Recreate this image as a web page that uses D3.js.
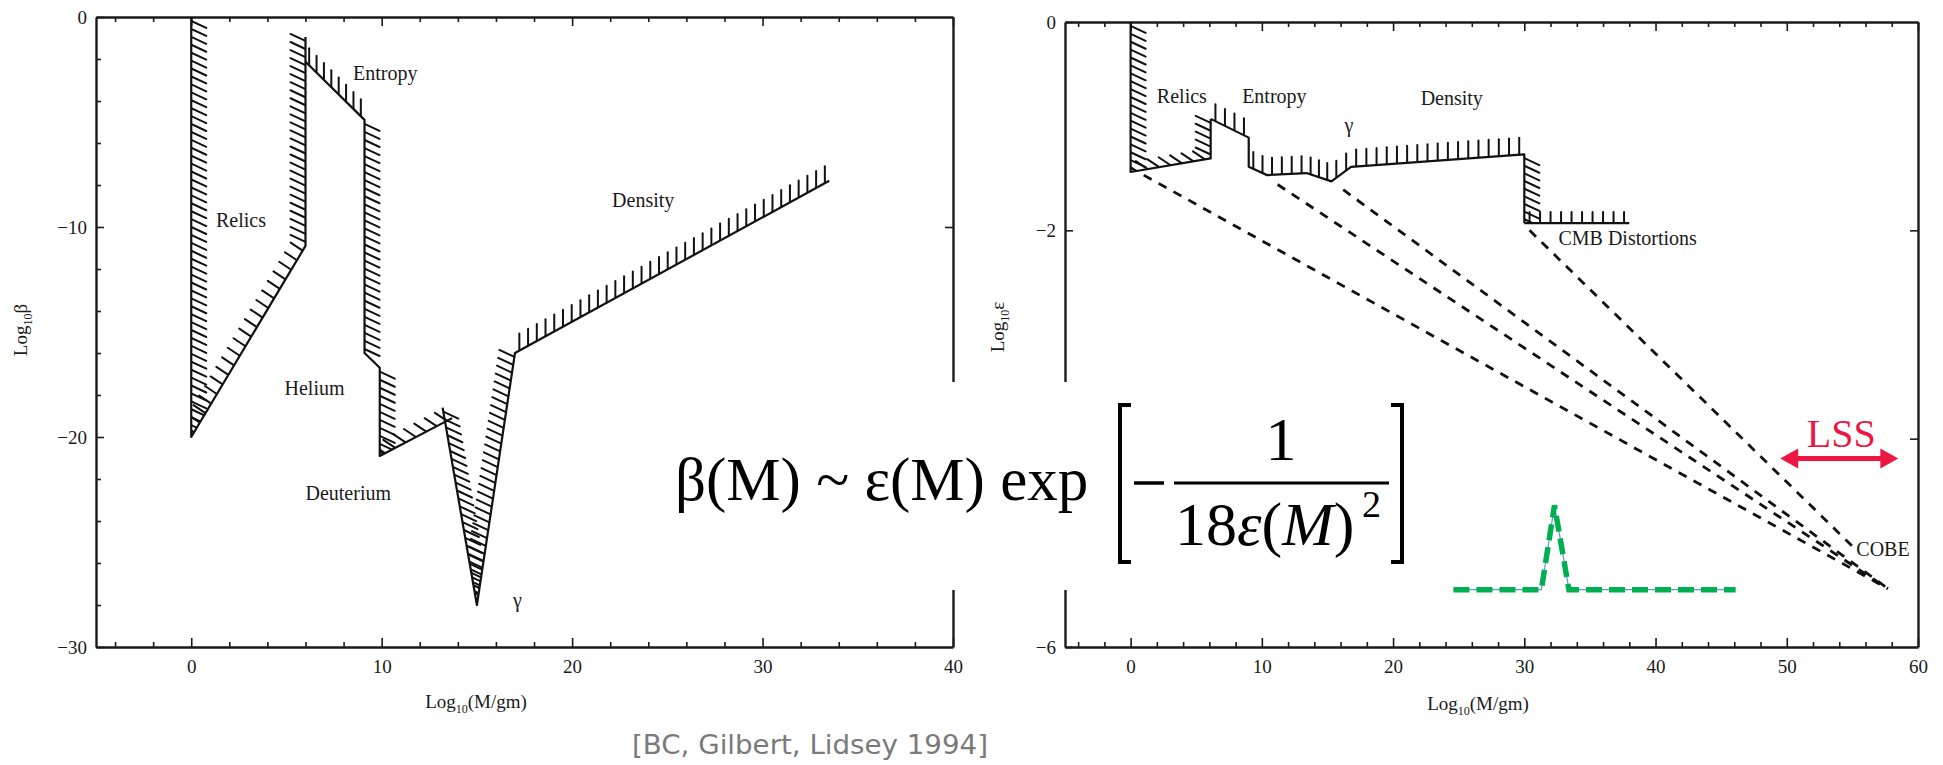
<!DOCTYPE html>
<html>
<head>
<meta charset="utf-8">
<title>PBH constraints</title>
<style>
  body { margin: 0; background: #fff; }
  svg text { font-family: "Liberation Serif", "Times New Roman", serif; fill: #1a1a1a; }
  .axis path, .axis line { fill: none; stroke: #1a1a1a; }
  .axis path { stroke-width: 2.4px; }
  .axis line { stroke-width: 1.6px; }
  .axis text { font-size: 19px; font-family: "Liberation Serif", serif; fill: #1a1a1a; }
  .bound { fill: none; stroke: #111; stroke-width: 2.2px; stroke-linejoin: round; }
  .hatch { stroke: #111; stroke-width: 2px; stroke-linecap: round; }
  .cobe { fill: none; stroke: #111; stroke-width: 2.8px; stroke-dasharray: 9 8; }
  .lbl { font-size: 20px; }
</style>
<script src="https://d3js.org/d3.v7.min.js"></script>
</head>
<body>
<div id="chart"></div>
<script>
// ---- left panel: log10 beta limits ----
var leftRelics = [[0, 0], [0, -20], [6, -10.9], [6, -0.95]];
var leftEntropy = [[6, -2.13], [9.1, -4.9], [9.1, -16.0], [9.9, -16.7], [9.9, -20.9], [13.7, -19.1]];
var leftGamma = [[13.2, -18.6], [15, -28], [17, -16], [33.5, -7.8]];
var leftLabels = [["Entropy", 8.5, -3.0], ["Relics", 1.3, -10.0], ["Density", 22.1, -9.05],
                  ["Helium", 4.9, -18.0], ["Deuterium", 6.0, -23.0], ["γ", 16.9, -28.1]];
var leftXTicks = [0, 10, 20, 30, 40];
var leftYTicks = [-30, -20, -10, 0];

// ---- right panel: log10 epsilon limits ----
var rightRelics = [[0, 0], [0, -1.44], [6.1, -1.31], [6.1, -0.93]];
var rightEntropy = [[6.1, -0.93], [9.0, -1.11], [9.0, -1.39], [10.4, -1.47], [13.4, -1.45],
                    [15.3, -1.53], [16.8, -1.39], [30, -1.27], [30, -1.93]];
var rightCMB = [[30, -1.93], [38, -1.93]];
var cobeStarts = [[1.0, -1.47], [11.2, -1.56], [16.2, -1.61], [30.4, -2.0]];
var cobeEnds = [[57.7, -5.44], [57.7, -5.44], [57.5, -5.42], [55.3, -5.07]];
var peak = [[24.6, -5.45], [31.3, -5.45], [32.3, -4.64], [33.4, -5.45], [46.1, -5.45]];
var lssRange = [49.5, 58.5], lssLevel = -4.19;
var rightLabels = [["Relics", 2.0, -0.78], ["Entropy", 8.5, -0.78], ["Density", 22.1, -0.80],
                   ["γ", 16.3, -1.06], ["CMB Distortions", 32.6, -2.14], ["COBE", 55.3, -5.13]];
var rightXTicks = [0, 10, 20, 30, 40, 50, 60];
var rightYTicks = [-6, -4, -2, 0];

// hatch side for every segment (r = right, l = left, ul = above-left, u = up, s = short up, "" = none)
var leftRelicsMarks = ["r", "ul", "l"];
var leftEntropyMarks = ["u", "r", "", "r", "ul"];
var leftGammaMarks = ["r", "l", "u"];
var rightRelicsMarks = ["r", "ul", "l"];
var rightEntropyMarks = ["u", "", "u", "u", "u", "u", "u", "r"];
var rightCMBMarks = ["s"];

var W = 1943, H = 765;
var svg = d3.select("#chart").append("svg").attr("width", W).attr("height", H);
svg.append("rect").attr("width", W).attr("height", H).attr("fill", "#fff");
var defs = svg.append("defs");
var clipCount = 0;

var xL = d3.scaleLinear().domain([-5, 40]).range([96, 953]);
var yL = d3.scaleLinear().domain([-30, 0]).range([647, 17]);
var xR = d3.scaleLinear().domain([-5, 60]).range([1065, 1918]);
var yR = d3.scaleLinear().domain([-6, 0]).range([647, 22]);

// offset of a hatch stroke and spacing along the boundary, in px
var hatchDir = { r: [15, 7, 8], l: [-15, -7, 8], ul: [-12, -8, 11], u: [0, -17, 10], s: [0, -11, 10] };

function drawBoundary(g, pts, marks, xs, ys) {
    var line = d3.line().x(function(d) { return xs(d[0]); }).y(function(d) { return ys(d[1]); });
    // hatches are kept on the excluded (upper / inner) side of the boundary
    var xMax = xs.domain()[1], yTop = ys.domain()[1], last = pts[pts.length - 1];
    var region = pts.concat([[xMax, last[1]], [xMax, yTop], [pts[0][0], yTop]]);
    var id = "clip" + (clipCount++);
    defs.append("clipPath").attr("id", id).append("path").datum(region).attr("d", line.curve(d3.curveLinearClosed));
    line.curve(d3.curveLinear);

    var strokes = [];
    for (var i = 0; i < pts.length - 1; i++) {
        var dir = hatchDir[marks[i]];
        if (!dir) continue;
        var x0 = xs(pts[i][0]), y0 = ys(pts[i][1]), x1 = xs(pts[i + 1][0]), y1 = ys(pts[i + 1][1]);
        var n = Math.max(1, Math.round(Math.hypot(x1 - x0, y1 - y0) / dir[2]));
        for (var k = 0; k < n; k++) {
            var t = (k + 0.5) / n;
            var px = x0 + t * (x1 - x0), py = y0 + t * (y1 - y0);
            strokes.push([px, py, px + dir[0], py + dir[1]]);
        }
    }
    g.append("g").attr("clip-path", "url(#" + id + ")")
        .selectAll("line").data(strokes).enter().append("line")
        .attr("class", "hatch")
        .attr("x1", function(d) { return d[0]; }).attr("y1", function(d) { return d[1]; })
        .attr("x2", function(d) { return d[2]; }).attr("y2", function(d) { return d[3]; });
    g.append("path").datum(pts).attr("class", "bound").attr("d", line);
}

function minor(lo, hi, stepv, skip) {
    return d3.range(lo, hi + 0.001, stepv).filter(function(v) { return v % skip !== 0; });
}

function frame(xs, ys, xt, yt, xMinor, yMinor, rightTicks) {
    var g = svg.append("g");
    var fmt = d3.format("d");
    var x0 = xs.range()[0], x1 = xs.range()[1], y0 = ys.range()[0], y1 = ys.range()[1];
    // bottom
    g.append("g").attr("class", "axis").attr("transform", "translate(0," + y0 + ")")
        .call(d3.axisBottom(xs).tickValues(xt).tickFormat(fmt).tickSize(-9).tickSizeOuter(0).tickPadding(13));
    g.append("g").attr("class", "axis").attr("transform", "translate(0," + y0 + ")")
        .call(d3.axisBottom(xs).tickValues(xMinor).tickSize(-5).tickFormat(""))
        .call(function(a) { a.select(".domain").remove(); });
    // top
    g.append("g").attr("class", "axis").attr("transform", "translate(0," + y1 + ")")
        .call(d3.axisTop(xs).tickValues(xt).tickSize(-9).tickSizeOuter(0).tickFormat(""));
    g.append("g").attr("class", "axis").attr("transform", "translate(0," + y1 + ")")
        .call(d3.axisTop(xs).tickValues(xMinor).tickSize(-5).tickFormat(""))
        .call(function(a) { a.select(".domain").remove(); });
    // left
    g.append("g").attr("class", "axis").attr("transform", "translate(" + x0 + ",0)")
        .call(d3.axisLeft(ys).tickValues(yt).tickFormat(fmt).tickSize(-8).tickSizeOuter(0).tickPadding(9));
    if (yMinor.length) {
        g.append("g").attr("class", "axis").attr("transform", "translate(" + x0 + ",0)")
            .call(d3.axisLeft(ys).tickValues(yMinor).tickSize(-5).tickFormat(""))
            .call(function(a) { a.select(".domain").remove(); });
    }
    // right
    g.append("g").attr("class", "axis").attr("transform", "translate(" + x1 + ",0)")
        .call(d3.axisRight(ys).tickValues(rightTicks).tickSize(-8).tickSizeOuter(0).tickFormat(""));
    return g;
}

function logTitle(x, y, sym, rotate) {
    var t = svg.append("text").attr("font-size", 19)
        .attr("transform", "translate(" + x + "," + y + ")" + (rotate ? " rotate(-90)" : ""))
        .attr("text-anchor", "middle");
    t.append("tspan").text("Log");
    t.append("tspan").attr("font-size", 12).attr("dy", 5).text("10");
    t.append("tspan").attr("dy", -5).text(sym);
}

// left panel
frame(xL, yL, leftXTicks, leftYTicks, minor(-4, 40, 2, 10), minor(-28, 0, 2, 10), [-20, -10]);
var gl = svg.append("g");
drawBoundary(gl, leftRelics, leftRelicsMarks, xL, yL);
drawBoundary(gl, leftEntropy, leftEntropyMarks, xL, yL);
drawBoundary(gl, leftGamma, leftGammaMarks, xL, yL);
gl.selectAll(".lbl").data(leftLabels).enter().append("text").attr("class", "lbl")
    .attr("x", function(d) { return xL(d[1]); }).attr("y", function(d) { return yL(d[2]); })
    .text(function(d) { return d[0]; });
logTitle(476, 708, "(M/gm)", false);
logTitle(27, 330, "β", true);

// right panel
frame(xR, yR, rightXTicks, rightYTicks, minor(-4, 60, 2, 10), [], [-4, -2]);
var gr = svg.append("g");
gr.selectAll(".cobe").data(d3.zip(cobeStarts, cobeEnds)).enter().append("path")
    .attr("class", "cobe")
    .attr("d", d3.line().x(function(d) { return xR(d[0]); }).y(function(d) { return yR(d[1]); }));
drawBoundary(gr, rightRelics, rightRelicsMarks, xR, yR);
drawBoundary(gr, rightEntropy, rightEntropyMarks, xR, yR);
drawBoundary(gr, rightCMB, rightCMBMarks, xR, yR);
gr.selectAll(".lbl").data(rightLabels).enter().append("text").attr("class", "lbl")
    .attr("x", function(d) { return xR(d[1]); }).attr("y", function(d) { return yR(d[2]); })
    .text(function(d) { return d[0]; });
logTitle(1478, 710, "(M/gm)", false);
logTitle(1004, 327, "ε", true);

// green peak sketch
var peakLine = d3.line().x(function(d) { return xR(d[0]); }).y(function(d) { return yR(d[1]); });
gr.append("path").datum(peak).attr("d", peakLine)
    .attr("fill", "none").attr("stroke", "#5b9bd5").attr("stroke-width", 1.2);
gr.append("path").datum(peak).attr("d", peakLine)
    .attr("fill", "none").attr("stroke", "#00b050").attr("stroke-width", 5.5)
    .attr("stroke-dasharray", "16 7");

// LSS arrow
var red = "#ee1743";
var ax0 = xR(lssRange[0]), ax1 = xR(lssRange[1]), ay = yR(lssLevel);
gr.append("line").attr("x1", ax0 + 10).attr("x2", ax1 - 10).attr("y1", ay).attr("y2", ay)
    .attr("stroke", red).attr("stroke-width", 5);
gr.append("path").attr("fill", red)
    .attr("d", "M" + ax0 + "," + ay + "l18,-10v20z M" + ax1 + "," + ay + "l-18,-10v20z");
gr.append("text").attr("x", (ax0 + ax1) / 2 + 2).attr("y", ay - 11)
    .attr("text-anchor", "middle").attr("font-size", 40).style("fill", red).text("LSS");

// formula overlay
var fg = svg.append("g");
fg.append("rect").attr("x", 640).attr("y", 382).attr("width", 780).attr("height", 208).attr("fill", "#fff");
fg.append("text").attr("x", 675).attr("y", 500).attr("font-size", 61).style("fill", "#000")
    .text("β(M) ~ ε(M) exp");
fg.append("path").attr("fill", "none").attr("stroke", "#000").attr("stroke-width", 4)
    .attr("d", "M1131,405H1120V562H1131 M1391,405H1402V562H1391");
fg.append("line").attr("x1", 1134).attr("x2", 1164).attr("y1", 483).attr("y2", 483)
    .attr("stroke", "#000").attr("stroke-width", 3.5);
fg.append("line").attr("x1", 1174).attr("x2", 1389).attr("y1", 483).attr("y2", 483)
    .attr("stroke", "#000").attr("stroke-width", 3);
fg.append("text").attr("x", 1281).attr("y", 460).attr("text-anchor", "middle")
    .attr("font-size", 62).style("fill", "#000").text("1");
var den = fg.append("text").attr("x", 1175).attr("y", 545).attr("font-size", 62).style("fill", "#000");
den.append("tspan").text("18");
den.append("tspan").attr("font-style", "italic").text("ε");
den.append("tspan").text("(");
den.append("tspan").attr("font-style", "italic").text("M");
den.append("tspan").text(")");
fg.append("text").attr("x", 1362).attr("y", 517).attr("font-size", 38).style("fill", "#000").text("2");

// citation
svg.append("text").attr("x", 632).attr("y", 754)
    .attr("font-size", 26).attr("textLength", 356).attr("lengthAdjust", "spacingAndGlyphs")
    .style("font-family", "'DejaVu Sans Condensed', 'Liberation Sans Narrow', sans-serif")
    .style("fill", "#7a7a7a").style("font-weight", 300)
    .text("[BC, Gilbert, Lidsey 1994]");
</script>
</body>
</html>
